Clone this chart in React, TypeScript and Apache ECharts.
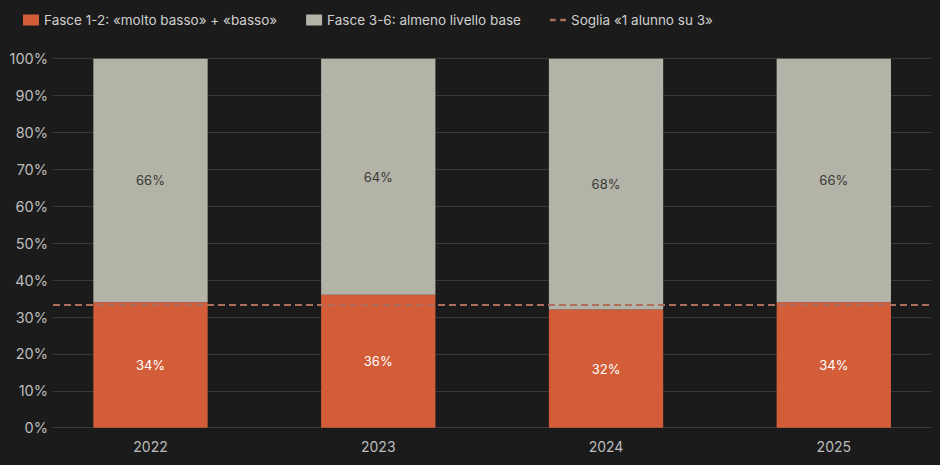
import React, { useEffect, useRef } from "react";
import * as echarts from "echarts";

const YEARS = ["2022", "2023", "2024", "2025"];
const LOW = [34, 36, 32, 34];
const BASE = [66, 64, 68, 66];
const THRESHOLD = 100 / 3;
const NAME_LOW = "Fasce 1-2: «molto basso» + «basso»";
const NAME_BASE = "Fasce 3-6: almeno livello base";
const NAME_THR = "Soglia «1 alunno su 3»";

const FONT = "Inter, 'Noto Sans', sans-serif";
const BG = "#1b1b1b";
const ORANGE = "#d35d38";
const GRAY = "#b3b3a7";
const DASH = "#ad6f5c";

export default function App() {
  const ref = useRef<HTMLDivElement>(null);
  useEffect(() => {
    document.body.style.margin = "0";
    document.body.style.background = BG;
    const chart = echarts.init(ref.current!, null, { renderer: "svg" });
    const top = 58.7;
    const bottom = 37.3;
    const barLabel = (color: string) => ({
      show: true,
      position: "inside",
      formatter: "{c}%",
      color,
      fontSize: 13,
      fontFamily: FONT,
    });
    chart.setOption({
      animation: false,
      backgroundColor: BG,
      textStyle: { fontFamily: FONT },
      legend: {
        left: 23,
        top: 13,
        padding: 0,
        itemWidth: 16,
        itemHeight: 11,
        itemGap: 29,
        textStyle: { color: "#cfcfcf", fontSize: 13.5, fontFamily: FONT },
        data: [
          { name: NAME_LOW, icon: "rect" },
          { name: NAME_BASE, icon: "rect" },
          { name: NAME_THR, icon: "path://M0,0h5v2h-5zM9,0h5v2h-5z" },
        ],
      },
      grid: [
        { left: 53, right: 9, top, bottom },
        { left: 150.5, right: 106.2, top, bottom },
      ],
      xAxis: [
        { gridIndex: 0, type: "value", min: 0, max: 1, show: false },
        {
          gridIndex: 1,
          type: "category",
          data: YEARS,
          boundaryGap: false,
          axisLine: { show: false },
          axisTick: { show: false },
          axisLabel: { color: "#bdbdbd", fontSize: 14, margin: 12, fontFamily: FONT },
        },
      ],
      yAxis: [
        {
          gridIndex: 0,
          type: "value",
          min: 0,
          max: 100,
          interval: 10,
          axisLine: { show: false },
          axisTick: { show: false },
          axisLabel: {
            formatter: "{value}%",
            color: "#bdbdbd",
            fontSize: 14.5,
            margin: 5,
            fontFamily: FONT,
          },
          splitLine: { lineStyle: { color: "#383838", width: 1 } },
        },
        {
          gridIndex: 1,
          type: "value",
          min: 0,
          max: 100,
          show: false,
          splitLine: { show: false },
        },
      ],
      series: [
        {
          name: NAME_LOW,
          type: "bar",
          xAxisIndex: 1,
          yAxisIndex: 1,
          stack: "tot",
          barWidth: 114.3,
          clip: false,
          data: LOW,
          itemStyle: { color: ORANGE },
          label: barLabel("#ffffff"),
          z: 2,
        },
        {
          name: NAME_BASE,
          type: "bar",
          xAxisIndex: 1,
          yAxisIndex: 1,
          stack: "tot",
          barWidth: 114.3,
          clip: false,
          data: BASE,
          itemStyle: { color: GRAY },
          label: barLabel("#3a3a3a"),
          z: 2,
        },
        {
          name: NAME_THR,
          type: "line",
          xAxisIndex: 0,
          yAxisIndex: 0,
          data: [],
          symbol: "none",
          color: DASH,
          itemStyle: { color: DASH },
          lineStyle: { color: DASH, width: 1.8, type: [7, 4] },
          markLine: {
            silent: true,
            symbol: ["none", "none"],
            label: { show: false },
            lineStyle: { color: DASH, width: 1.8, type: [7, 4] },
            data: [{ yAxis: THRESHOLD }],
          },
          z: 5,
        },
      ],
    });
    return () => chart.dispose();
  }, []);
  return <div ref={ref} style={{ width: 940, height: 465 }} />;
}
